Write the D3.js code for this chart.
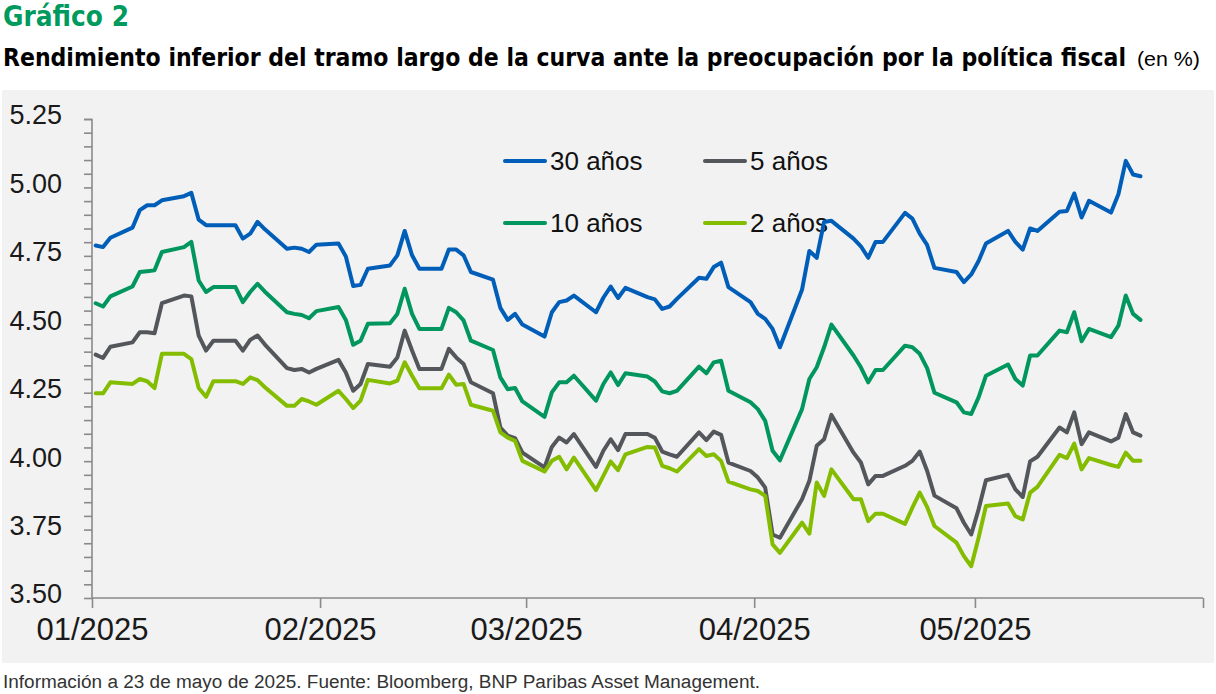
<!DOCTYPE html>
<html><head><meta charset="utf-8">
<script src="https://cdn.jsdelivr.net/npm/d3@7"></script>
<style>
html,body{margin:0;padding:0;background:#fff;}
svg{display:block;font-family:"Liberation Sans",Arial,sans-serif;}
</style></head>
<body>
<svg id="chart" width="1216" height="694"></svg>
<script>
// ---------- data (weekday dates, yields in %) ----------
const dates = [
 "2025-01-01","2025-01-02","2025-01-03","2025-01-06","2025-01-07","2025-01-08","2025-01-09","2025-01-10",
 "2025-01-13","2025-01-14","2025-01-15","2025-01-16","2025-01-17","2025-01-20","2025-01-21","2025-01-22",
 "2025-01-23","2025-01-24","2025-01-27","2025-01-28","2025-01-29","2025-01-30","2025-01-31",
 "2025-02-03","2025-02-04","2025-02-05","2025-02-06","2025-02-07","2025-02-10","2025-02-11","2025-02-12",
 "2025-02-13","2025-02-14","2025-02-17","2025-02-18","2025-02-19","2025-02-20","2025-02-21","2025-02-24",
 "2025-02-25","2025-02-26","2025-02-27","2025-02-28",
 "2025-03-03","2025-03-04","2025-03-05","2025-03-06","2025-03-07","2025-03-10","2025-03-11","2025-03-12",
 "2025-03-13","2025-03-14","2025-03-17","2025-03-18","2025-03-19","2025-03-20","2025-03-21","2025-03-24",
 "2025-03-25","2025-03-26","2025-03-27","2025-03-28","2025-03-31",
 "2025-04-01","2025-04-02","2025-04-03","2025-04-04","2025-04-07","2025-04-08","2025-04-09","2025-04-10",
 "2025-04-11","2025-04-14","2025-04-15","2025-04-16","2025-04-17","2025-04-18","2025-04-21","2025-04-22",
 "2025-04-23","2025-04-24","2025-04-25","2025-04-28","2025-04-29","2025-04-30",
 "2025-05-01","2025-05-02","2025-05-05","2025-05-06","2025-05-07","2025-05-08","2025-05-09","2025-05-12",
 "2025-05-13","2025-05-14","2025-05-15","2025-05-16","2025-05-19","2025-05-20","2025-05-21","2025-05-22",
 "2025-05-23"
];

const y30 = [
 4.788,4.782,4.816,4.853,4.917,4.935,4.935,4.953,4.968,4.980,4.882,4.862,4.862,4.862,4.813,4.831,4.874,4.847,4.776,4.780,4.776,4.764,4.791,
 4.795,4.748,4.640,4.644,4.703,4.715,4.752,4.841,4.752,4.703,4.703,4.773,4.773,4.752,4.691,4.663,4.560,4.516,4.538,4.499,
 4.455,4.544,4.581,4.587,4.605,4.544,4.597,4.638,4.596,4.633,4.599,4.591,4.556,4.565,4.593,4.670,4.666,4.709,4.725,4.636,4.581,
 4.538,4.520,4.483,4.416,4.626,4.768,4.743,4.874,4.878,4.813,4.785,4.743,4.801,4.801,4.907,4.886,4.831,4.790,4.706,4.691,4.654,4.682,
 4.731,4.795,4.841,4.801,4.773,4.850,4.841,4.911,4.914,4.978,4.890,4.951,4.908,4.975,5.097,5.047,5.041
];
const y5 = [
 4.389,4.377,4.418,4.434,4.471,4.471,4.467,4.577,4.605,4.602,4.459,4.404,4.440,4.440,4.404,4.443,4.459,4.426,4.340,4.333,4.337,4.324,4.337,
 4.370,4.324,4.257,4.282,4.355,4.345,4.379,4.477,4.404,4.337,4.337,4.410,4.379,4.355,4.288,4.248,4.123,4.093,4.084,4.031,
 3.977,4.052,4.086,4.068,4.099,3.979,4.038,4.080,4.040,4.099,4.099,4.085,4.035,4.025,4.016,4.105,4.077,4.108,4.096,3.995,3.964,
 3.940,3.903,3.732,3.720,3.861,3.928,4.056,4.080,4.169,4.031,3.995,3.915,3.946,3.946,3.983,4.001,4.035,3.965,3.874,3.828,3.775,3.732,
 3.824,3.930,3.950,3.897,3.869,3.999,4.016,4.123,4.105,4.178,4.062,4.105,4.072,4.086,4.172,4.105,4.093
];
const y10 = [
 4.577,4.565,4.602,4.638,4.691,4.694,4.697,4.764,4.782,4.801,4.660,4.618,4.636,4.636,4.581,4.618,4.648,4.619,4.544,4.538,4.534,4.522,4.548,
 4.563,4.516,4.425,4.440,4.502,4.504,4.538,4.630,4.538,4.483,4.483,4.560,4.544,4.514,4.440,4.406,4.306,4.263,4.267,4.218,
 4.162,4.251,4.288,4.288,4.312,4.221,4.282,4.324,4.278,4.321,4.309,4.291,4.255,4.248,4.257,4.345,4.321,4.361,4.367,4.257,4.215,
 4.190,4.147,4.038,4.003,4.190,4.300,4.343,4.416,4.499,4.386,4.343,4.288,4.333,4.333,4.422,4.416,4.392,4.340,4.250,4.215,4.178,4.172,
 4.233,4.312,4.353,4.300,4.276,4.386,4.386,4.477,4.471,4.544,4.438,4.483,4.453,4.495,4.605,4.538,4.516
];
const y2 = [
 4.248,4.248,4.288,4.282,4.300,4.292,4.267,4.392,4.392,4.373,4.267,4.235,4.292,4.292,4.282,4.306,4.296,4.270,4.202,4.202,4.227,4.218,4.206,
 4.257,4.227,4.194,4.221,4.297,4.284,4.294,4.361,4.312,4.266,4.266,4.316,4.279,4.282,4.206,4.184,4.105,4.086,4.074,4.001,
 3.962,4.001,4.016,3.970,4.013,3.894,3.946,3.999,3.967,4.025,4.052,4.050,3.983,3.974,3.962,4.044,4.019,4.025,4.001,3.925,3.897,
 3.891,3.873,3.696,3.665,3.775,3.735,3.922,3.873,3.970,3.861,3.861,3.781,3.808,3.808,3.771,3.830,3.885,3.833,3.763,3.702,3.653,3.616,
 3.720,3.836,3.845,3.799,3.787,3.885,3.906,4.023,4.011,4.064,3.970,4.011,3.986,3.979,4.031,4.001,4.001
];

const seriesNames = ["30 años","5 años","10 años","2 años"];
const seriesValues = [y30, y5, y10, y2];
const seriesColors = ["#005eb8","#53565a","#00965e","#84bd00"];

const monthTicks = ["2025-01-01","2025-02-01","2025-03-01","2025-04-01","2025-05-01","2025-06-01"];
const monthLabels = ["01/2025","02/2025","03/2025","04/2025","05/2025",""];
const yMajor = [3.50,3.75,4.00,4.25,4.50,4.75,5.00,5.25];

const titleText = "Gráfico 2";
const subtitleBold = "Rendimiento inferior del tramo largo de la curva ante la preocupación por la política fiscal";
const subtitleUnit = "(en %)";
const sourceText = "Información a 23 de mayo de 2025. Fuente: Bloomberg, BNP Paribas Asset Management.";

// ---------- drawing ----------
const svg = d3.select("#chart");
const parse = d3.timeParse("%Y-%m-%d");

svg.append("rect").attr("x",0).attr("y",0).attr("width",1216).attr("height",694).attr("fill","#fff");
svg.append("rect").attr("x",2).attr("y",90).attr("width",1212).attr("height",573).attr("fill","#f2f2f2");

// titles
svg.append("text").attr("x",3).attr("y",26).text(titleText)
  .attr("fill","#009a5e").attr("font-weight","bold").attr("font-size",28)
  .style("font-family","'DejaVu Sans'").style("font-stretch","condensed")
  .attr("textLength",126).attr("lengthAdjust","spacingAndGlyphs");
svg.append("text").attr("x",3).attr("y",66).text(subtitleBold)
  .attr("fill","#000").attr("font-weight","bold").attr("font-size",24)
  .style("font-family","'DejaVu Sans'").style("font-stretch","condensed")
  .attr("textLength",1123).attr("lengthAdjust","spacingAndGlyphs");
svg.append("text").attr("x",1137).attr("y",66).text(subtitleUnit)
  .attr("fill","#000").attr("font-size",21)
  .attr("textLength",63).attr("lengthAdjust","spacingAndGlyphs");
svg.append("text").attr("x",3).attr("y",688).text(sourceText)
  .attr("fill","#333").attr("font-size",18)
  .attr("textLength",757).attr("lengthAdjust","spacingAndGlyphs");

// scales
const x = d3.scaleTime().domain([parse("2025-01-01"), parse("2025-06-01")]).range([92, 1203]);
const y = d3.scaleLinear().domain([3.5, 5.25]).range([598, 119]);

// y axis (minor ticks every 0.05)
const yTicks = d3.range(0, 36).map(i => +(3.5 + i*0.05).toFixed(2));
const yAxis = d3.axisLeft(y).tickValues(yTicks).tickSize(8).tickPadding(22)
  .tickFormat(v => yMajor.some(m => Math.abs(m - v) < 1e-6) ? d3.format(".2f")(v) : "");
const gy = svg.append("g").attr("transform","translate(92,0)").call(yAxis);
gy.select(".domain").attr("stroke","#8a8a8a").attr("stroke-width",1.6).attr("d","M-8,119.5H0V598");
gy.selectAll(".tick line").attr("stroke","#8a8a8a").attr("stroke-width",1.6);
gy.selectAll(".tick text").attr("fill","#1a1a1a").attr("font-size",27).attr("dy","0.18em")
  .style("font-family","'Liberation Sans',Arial,sans-serif");

// x axis
const xAxis = d3.axisBottom(x).tickValues(monthTicks.map(parse)).tickSize(10).tickPadding(10)
  .tickFormat((d,i) => monthLabels[i]);
const gx = svg.append("g").attr("transform","translate(0,598)").call(xAxis);
gx.select(".domain").attr("stroke","#8a8a8a").attr("stroke-width",1.6).attr("d","M92,0H1203");
gx.selectAll(".tick line").attr("stroke","#8a8a8a").attr("stroke-width",1.6);
gx.selectAll(".tick text").attr("fill","#1a1a1a").attr("font-size",31)
  .style("font-family","'Liberation Sans',Arial,sans-serif");

// legend (drawn below lines)
const legendPos = [[505,161],[705,161],[505,223],[705,223]];
const lg = svg.append("g");
seriesNames.forEach((name,i) => {
  const [lx,ly] = legendPos[i];
  lg.append("line").attr("x1",lx).attr("x2",lx+40).attr("y1",ly).attr("y2",ly)
    .attr("stroke",seriesColors[i]).attr("stroke-width",4).attr("stroke-linecap","round");
  lg.append("text").attr("x",lx+45).attr("y",ly+9).text(name)
    .attr("fill","#111").attr("font-size",26);
});

// lines
const dateObjs = dates.map(s => d3.timeHour.offset(parse(s), 12));
const line = d3.line().x(d => x(d.date)).y(d => y(d.v));
seriesValues.forEach((vals,i) => {
  const pts = vals.map((v,j) => ({date: dateObjs[j], v}));
  svg.append("path").datum(pts).attr("d", line)
    .attr("fill","none").attr("stroke",seriesColors[i]).attr("stroke-width",4)
    .attr("stroke-linejoin","round").attr("stroke-linecap","round");
});
</script>
</body></html>
